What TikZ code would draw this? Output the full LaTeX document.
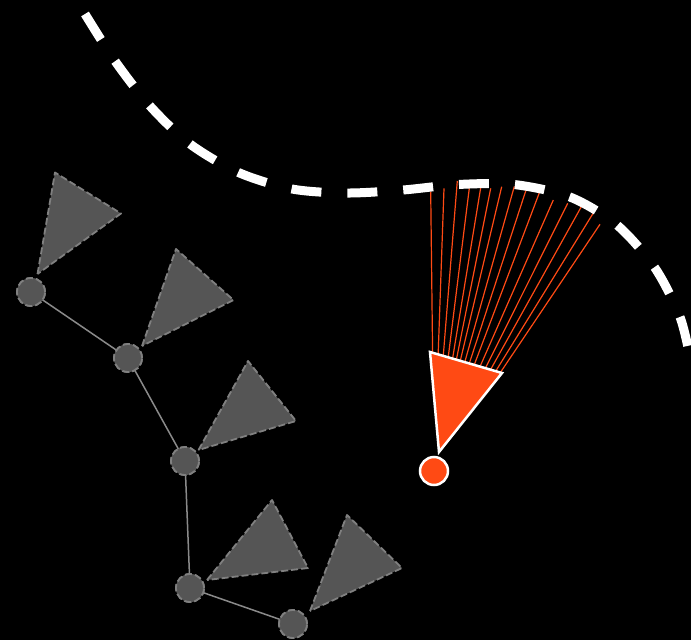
\documentclass[tikz,border=0pt]{standalone}
\usetikzlibrary{calc}
\definecolor{orng}{HTML}{FF4A14}
\definecolor{gfill}{HTML}{555555}
\definecolor{gedge}{HTML}{808080}
\definecolor{glink}{HTML}{8A8A8A}
\tikzset{
  bg/.style={fill=black},
  graycirc/.style={circle, fill=gfill, draw=gedge, line width=1.8pt, dash pattern=on 7pt off 3pt, minimum size=28pt, inner sep=0pt},
  graytri/.style={fill=gfill, draw=gedge, line width=1.8pt, dash pattern=on 7pt off 3pt, line join=round},
  link/.style={draw=glink, line width=1.5pt},
  wall/.style={draw=white, line width=9pt, dash pattern=on 30pt off 26pt},
  ray/.style={draw=orng, line width=1.2pt},
  robottri/.style={fill=orng, draw=white, line width=2.5pt, line join=miter},
  robotcirc/.style={circle, fill=orng, draw=white, line width=2.5pt, minimum size=28pt, inner sep=0pt}
}
\begin{document}
\begin{tikzpicture}[x=1pt,y=-1pt]
\path[bg] (0,0) rectangle (691,640);
\useasboundingbox (0,0) rectangle (691,640);

% gray pose graph
\node[graycirc] (c1) at (31,292) {};
\node[graycirc] (c2) at (128,358) {};
\node[graycirc] (c3) at (185,461) {};
\node[graycirc] (c4) at (190,588) {};
\node[graycirc] (c5) at (293,624) {};
\draw[link] (c1.center) -- (c2.center);
\draw[link] (c2.center) -- (c3.center);
\draw[link] (c3.center) -- (c4.center);
\draw[link] (c4.center) -- (c5.center);

\path[graytri] (37.5,274) -- (55,172.5) -- (121,213.5) -- cycle;
\path[graytri] (142,346) -- (176,249) -- (233.5,300) -- cycle;
\path[graytri] (198.5,450) -- (248,361) -- (296,421) -- cycle;
\path[graytri] (207,580) -- (272,500) -- (308,568) -- cycle;
\path[graytri] (310,611) -- (347,515) -- (402,568) -- cycle;

\node[graycirc] at (c1) {};
\node[graycirc] at (c2) {};
\node[graycirc] at (c3) {};
\node[graycirc] at (c4) {};
\node[graycirc] at (c5) {};

% robot pose and rays
\coordinate (oc) at (434,471);
\coordinate (tl) at (430,352);
\coordinate (tr) at (502,373);
\coordinate (tb) at (439,452);
\foreach \px/\py [count=\i] in {430.7/191.7, 444/188.3, 457.3/181, 469.3/188.3, 480.7/187.7, 490.7/188.3, 501.7/186.7, 514.3/186.5, 526.7/188, 540/191, 553.3/200, 567.7/203.3, 581.7/206, 593.3/213, 600/224.3}{
  \coordinate (r\i) at (\px,\py);
  \draw[ray] (intersection of tl--tr and oc--r\i) -- (r\i);
}

% wall
\draw[wall] plot[smooth, tension=0.5] coordinates {(85,14) (115,61) (150,106) (190,144) (238.5,172.5) (292,189) (347,193) (403,190) (458,184.5) (514,184.5) (570,197) (617,225) (655,268) (680,317) (691,362)};

\path[robottri] (tl) -- (tr) -- (tb) -- cycle;
\node[robotcirc] (robot) at (oc) {};
\end{tikzpicture}
\end{document}
